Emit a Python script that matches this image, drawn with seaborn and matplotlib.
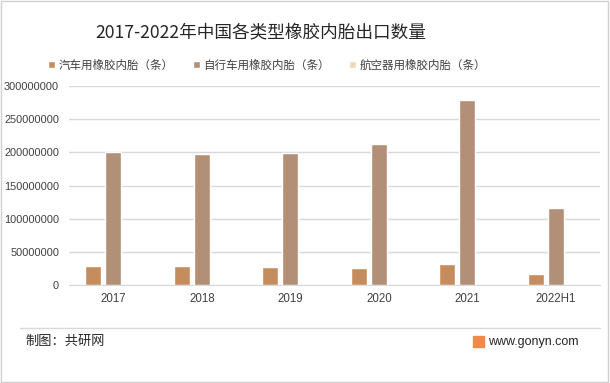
import numpy as np
import pandas as pd
from matplotlib import pyplot as plt
from matplotlib.patches import Rectangle
import seaborn as sns

# data
years = ['2017', '2018', '2019', '2020', '2021', '2022H1']
car_tubes = [29000000, 29000000, 27000000, 26000000, 32000000, 16000000]
bike_tubes = [201000000, 198000000, 199500000, 213000000, 279000000, 116000000]
aircraft_tubes = [0, 0, 0, 0, 0, 0]
series_names = ['汽车用橡胶内胎（条）', '自行车用橡胶内胎（条）', '航空器用橡胶内胎（条）']
colors = ['#D68C4C', '#BC8E6D', '#F9DBA6']

sns.set_style("white")
plt.rcParams['font.family'] = ['Noto Sans CJK SC', 'DejaVu Sans']

df = pd.DataFrame({
    'year': years * 3,
    'value': car_tubes + bike_tubes + aircraft_tubes,
    'series': [series_names[0]] * 6 + [series_names[1]] * 6 + [series_names[2]] * 6,
})

fig = plt.figure(figsize=(6.1, 3.83), dpi=100)
ax = fig.add_axes([0.113, 0.256, 0.871, 0.519])

sns.barplot(data=df, x='year', y='value', hue='series', palette=colors,
            width=0.68, gap=0.2, ax=ax, legend=True)

ax.set_ylim(0, 300000000)
ax.set_yticks(np.arange(0, 300000001, 50000000))
ax.set_yticklabels([str(v) for v in range(0, 300000001, 50000000)],
                   family='Liberation Sans', fontsize=7.9)
ax.set_xticks(range(len(years)))
ax.set_xticklabels(years, family='Liberation Sans', fontsize=8.3)
ax.set_xlim(-0.5, 5.5)
ax.set(xlabel='', ylabel='')
ax.grid(axis='y', color='#D9D9D9', linewidth=1)
ax.set_axisbelow(True)
for s in ['top', 'right', 'left']:
    ax.spines[s].set_visible(False)
ax.spines['bottom'].set_color('#D9D9D9')
ax.tick_params(axis='both', length=0, colors='#404040')
ax.tick_params(axis='x', pad=6)
ax.tick_params(axis='y', pad=7)

handles, labels = ax.get_legend_handles_labels()
ax.legend_.remove()
fig.legend(handles, labels, loc='center', bbox_to_anchor=(0.438, 0.83), ncol=3,
           frameon=False, fontsize=8.3, handlelength=0.6, handleheight=0.6,
           handletextpad=0.3, columnspacing=1.7, labelcolor='#404040')

fig.text(0.428, 0.915, '2017-2022年中国各类型橡胶内胎出口数量', ha='center', va='center',
         fontsize=12.7, color='#262626')

# footer
fig.add_artist(plt.Line2D([0.033, 0.984], [0.143, 0.143], color='#D9D9D9', linewidth=1))
fig.text(0.041, 0.108, '制图：共研网', ha='left', va='center', fontsize=9.5, color='#262626')
fig.text(0.8, 0.108, 'www.gonyn.com', ha='left', va='center', fontsize=9,
         family='Liberation Sans', color='#262626')
fig.add_artist(Rectangle((0.775, 0.094), 0.018, 0.028, color='#EE8A4A', transform=fig.transFigure))

# outer border
fig.add_artist(Rectangle((0.002, 0.003), 0.995, 0.994, fill=False, edgecolor='#D0D0D0',
                         linewidth=1, transform=fig.transFigure))

fig.savefig('out.png', dpi=100)
